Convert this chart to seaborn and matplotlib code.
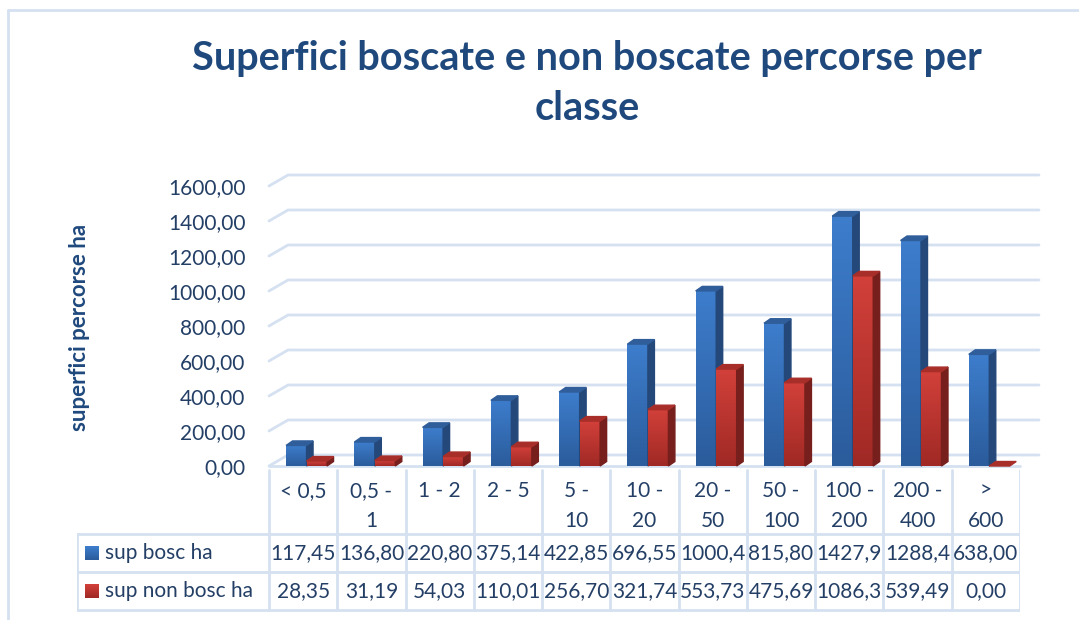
import matplotlib
matplotlib.use("Agg")
import matplotlib.pyplot as plt
import numpy as np
import pandas as pd
import seaborn as sns
from matplotlib.colors import LinearSegmentedColormap
from matplotlib.patches import Polygon, Rectangle
from matplotlib.ticker import FuncFormatter

# ---------------------------------------------------------------------------
# Data
# ---------------------------------------------------------------------------
classi = ["< 0,5", "0,5 -\n1", "1 - 2", "2 - 5", "5 -\n10", "10 -\n20",
          "20 -\n50", "50 -\n100", "100 -\n200", "200 -\n400", ">\n600"]
sup_bosc = [117.45, 136.80, 220.80, 375.14, 422.85, 696.55,
            1000.45, 815.80, 1427.95, 1288.45, 638.00]
sup_non_bosc = [28.35, 31.19, 54.03, 110.01, 256.70, 321.74,
                553.73, 475.69, 1086.35, 539.49, 0.00]
serie = ["sup bosc ha", "sup non bosc ha"]
y_ticks = [0, 200, 400, 600, 800, 1000, 1200, 1400, 1600]

TITLE = "Superfici boscate e non boscate percorse per\nclasse"
Y_LABEL = "superfici percorse ha"

# ---------------------------------------------------------------------------
# Style
# ---------------------------------------------------------------------------
W, H = 1079, 620
TEXT = "#243F66"
TITLE_C = "#1F497D"
LINE_C = "#D5E1F1"
FS = 15
# (bottom, top, side, lid) colours for each series
COLS = [("#2B5C9C", "#3D7DCC", "#24487A", "#2F5E9B"),
        ("#A02925", "#D2403A", "#771F1C", "#A82E2A")]
WALL_DX, WALL_DY = 19, 11      # back wall offset, pixels
BAR_DX, BAR_DY = 6.5, 4.5      # bar depth, pixels

sns.set_theme(style="white")
plt.rcParams["font.family"] = ["Lato", "DejaVu Sans"]

df = pd.DataFrame({
    "classe": classi * 2,
    "valore": sup_bosc + sup_non_bosc,
    "serie": [serie[0]] * len(classi) + [serie[1]] * len(classi),
})

fig = plt.figure(figsize=(W / 100, H / 100), dpi=100)

# outer chart border (only top/left visible in the crop)
fig.add_artist(plt.Line2D([8 / W, 1], [1 - 10 / H, 1 - 10 / H], color=LINE_C, lw=2))
fig.add_artist(plt.Line2D([8 / W, 8 / W], [0, 1 - 10 / H], color=LINE_C, lw=2))

ax_l, ax_r, ax_b, ax_t = 269, 1020, 466, 186
ax = fig.add_axes([ax_l / W, 1 - ax_b / H, (ax_r - ax_l) / W, (ax_b - ax_t) / H])

sns.barplot(data=df, x="classe", y="valore", hue="serie",
            palette=[COLS[0][1], COLS[1][1]], width=0.6, legend=False,
            ax=ax, saturation=1)

n = len(classi)
ax.set_xlim(-0.5, n - 0.5)
ax.set_ylim(0, 1600)
px_x = (ax_r - ax_l) / n          # pixels per category
px_y = (ax_b - ax_t) / 1600       # pixels per unit

# back wall gridlines with a perspective offset
wdx, wdy = WALL_DX / px_x, WALL_DY / px_y
for t in y_ticks:
    ax.plot([-0.5, -0.5 + wdx, n - 0.5 + wdx], [t, t + wdy, t + wdy],
            color=LINE_C, lw=2, zorder=0, clip_on=False)
ax.plot([-0.5, n - 0.5], [0, 0], color=LINE_C, lw=2, zorder=0, clip_on=False)

# 3D bars: gradient front, darker side and top
bdx, bdy = BAR_DX / px_x, BAR_DY / px_y
grad = np.linspace(0, 1, 64).reshape(-1, 1)
bars = [p for p in ax.patches if isinstance(p, Rectangle)]
for i, p in enumerate(bars):
    s = i // n
    bottom, top, side, lid = COLS[s]
    x, w, h = p.get_x() + 0.05, p.get_width(), p.get_height()
    p.set_x(x)
    p.set_facecolor("none")
    p.set_edgecolor("none")
    z = 2 + s * 2 + i % n * 0.01
    if h > 0:
        cmap = LinearSegmentedColormap.from_list("g", [bottom, top])
        ax.imshow(grad, extent=[x, x + w, 0, h], origin="lower", cmap=cmap,
                  aspect="auto", zorder=z)
        ax.add_patch(Polygon([(x + w, 0), (x + w + bdx, bdy), (x + w + bdx, h + bdy),
                              (x + w, h)], closed=True, color=side, zorder=z,
                             clip_on=False))
    ax.add_patch(Polygon([(x, h), (x + bdx, h + bdy), (x + w + bdx, h + bdy),
                          (x + w, h)], closed=True, color=lid, zorder=z,
                         clip_on=False))

ax.set_xlim(-0.5, n - 0.5)
ax.set_ylim(0, 1600)
ax.set_yticks(y_ticks)
ax.yaxis.set_major_formatter(FuncFormatter(lambda v, _: f"{v:.2f}".replace(".", ",")))
ax.tick_params(axis="y", length=0, pad=17, labelsize=FS, labelcolor=TEXT)
ax.set_xticks([])
ax.set_xlabel("")
ax.set_ylabel("")
sns.despine(ax=ax, left=True, bottom=True)

fig.text(79 / W, 1 - 327 / H, Y_LABEL, rotation=90, ha="center", va="center",
         fontsize=16, fontweight="bold", color=TITLE_C)
fig.text(587 / W, 1 - 40 / H, TITLE, ha="center", va="top", fontsize=28.5,
         fontweight="bold", color=TITLE_C, linespacing=1.42)

# ---------------------------------------------------------------------------
# Data table below the chart
# ---------------------------------------------------------------------------
tb_l, tb_t, tb_b = 77, 466, 612
leg_w = (ax_l - tb_l) / px_x
tab = fig.add_axes([tb_l / W, 1 - tb_b / H, (ax_r - tb_l) / W, (tb_b - tb_t) / H])
tab.set_xlim(-0.5 - leg_w, n - 0.5)
tab.set_ylim(tb_b, tb_t)
tab.axis("off")

row_y = [470, 534, 572, 610]
for k in range(n + 1):
    tab.plot([k - 0.5, k - 0.5], [row_y[0], row_y[-1]], color=LINE_C, lw=2)
tab.plot([-0.5 - leg_w] * 2, [row_y[1], row_y[-1]], color=LINE_C, lw=2)
for yy in row_y[1:]:
    tab.plot([-0.5 - leg_w, n - 0.5], [yy, yy], color=LINE_C, lw=2)

for k, lab in enumerate(classi):
    tab.text(k, 481, lab, ha="center", va="top", fontsize=FS, color=TEXT,
             linespacing=1.65)

for r, vals in enumerate([sup_bosc, sup_non_bosc]):
    yc = (row_y[r + 1] + row_y[r + 2]) / 2
    for k, v in enumerate(vals):
        txt = f"{v:.2f}".replace(".", ",")[:6]
        tab.text(k, yc, txt, ha="center", va="center", fontsize=FS, color=TEXT)
    # legend key
    kx = -0.5 - leg_w + 8 / px_x
    kw = 14 / px_x
    cmap = LinearSegmentedColormap.from_list("k", [COLS[r][0], COLS[r][1]])
    tab.imshow(np.linspace(1, 0, 16).reshape(-1, 1), extent=[kx, kx + kw, yc + 7, yc - 7],
               cmap=cmap, aspect="auto", vmin=0, vmax=1)
    tab.text(kx + kw + 6 / px_x, yc, serie[r], ha="left", va="center",
             fontsize=FS, color=TEXT)

tab.set_xlim(-0.5 - leg_w, n - 0.5)
tab.set_ylim(tb_b, tb_t)

fig.savefig("out.png", dpi=100)
